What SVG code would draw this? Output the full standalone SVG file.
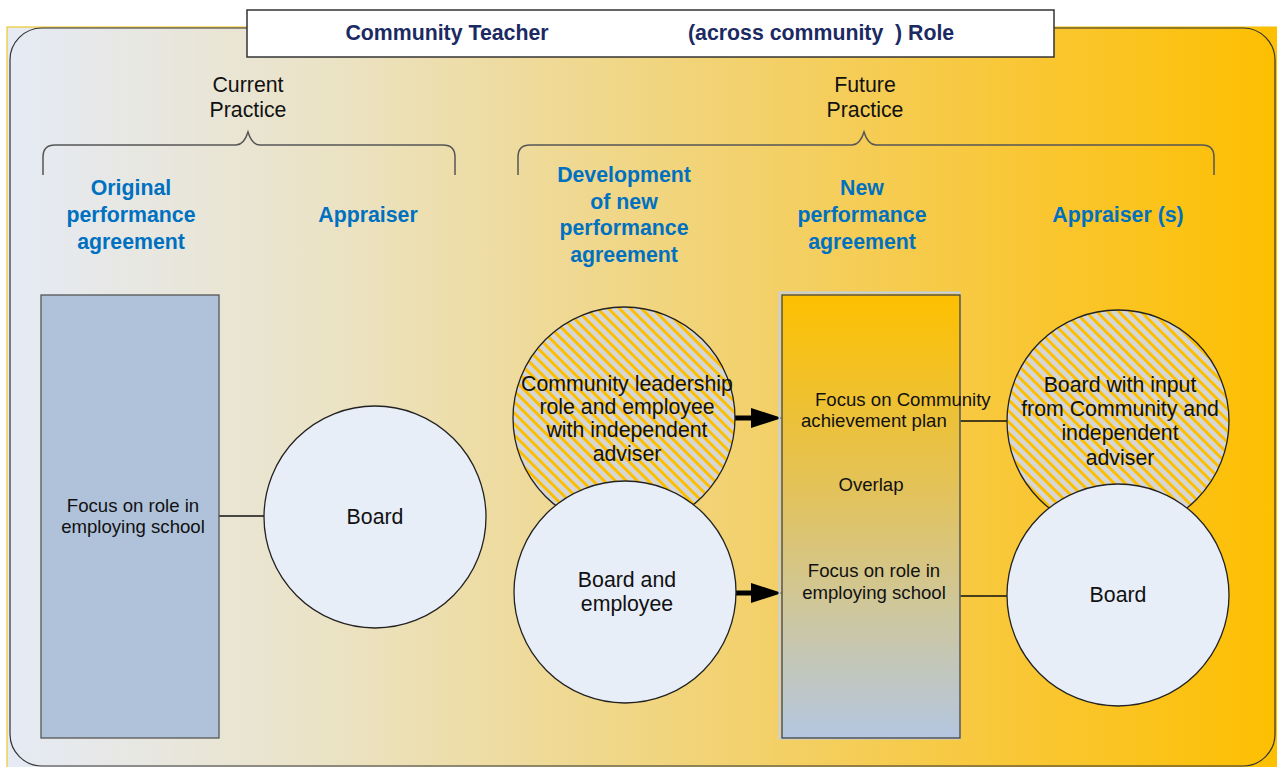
<svg xmlns="http://www.w3.org/2000/svg" width="1277" height="767" viewBox="0 0 1277 767">
<defs>
<linearGradient id="bg" x1="0" y1="0" x2="1" y2="0">
<stop offset="0" stop-color="#e5eaf5"/>
<stop offset="0.25" stop-color="#ebe3c6"/>
<stop offset="0.45" stop-color="#efd890"/>
<stop offset="0.6" stop-color="#f3d068"/>
<stop offset="0.8" stop-color="#f9c735"/>
<stop offset="1" stop-color="#fdbf00"/>
</linearGradient>
<linearGradient id="mid" x1="0" y1="0" x2="0" y2="1">
<stop offset="0" stop-color="#fdc000"/>
<stop offset="0.45" stop-color="#e2c25c"/>
<stop offset="0.7" stop-color="#cfc79a"/>
<stop offset="1" stop-color="#b4c6e0"/>
</linearGradient>
<pattern id="hatch" patternUnits="userSpaceOnUse" width="7.8" height="7.8" patternTransform="rotate(-45)">
<rect width="7.8" height="7.8" fill="#d6d6d6"/>
<rect width="3.4" height="7.8" fill="#fcbf00" shape-rendering="crispEdges"/>
</pattern>
</defs>
<style>
.hdr{font-family:"Liberation Sans",Arial,sans-serif;font-size:21.3px;font-weight:bold;fill:#0070c0;text-anchor:middle}
.lbl{font-family:"Liberation Sans",Arial,sans-serif;font-size:21.3px;fill:#111;text-anchor:middle}
.sm{font-family:"Liberation Sans",Arial,sans-serif;font-size:18.6px;fill:#111;text-anchor:middle}
.st{text-anchor:start}
.ttl{font-family:"Liberation Sans",Arial,sans-serif;font-size:21.3px;font-weight:bold;fill:#1b2a62}
.circ{stroke:#222;stroke-width:1.3}
.brace{fill:none;stroke:#555;stroke-width:1.5}
.ln{stroke:#111;stroke-width:1.3;fill:none}
.shaft{stroke:#000;stroke-width:5}
</style>
<rect x="7" y="27" width="1272" height="742" fill="url(#bg)" stroke="#f0c000" stroke-width="1"/>
<rect x="10" y="28" width="1265" height="738" rx="32" ry="32" fill="none" stroke="#333" stroke-width="1.2"/>
<g id="title">
<rect x="247" y="10" width="807" height="47" fill="#fff" stroke="#333" stroke-width="1.5"/>
<text class="ttl" x="447" y="39.5" text-anchor="middle">Community Teacher</text>
<text class="ttl" x="688" y="39.5">(across community</text>
<text class="ttl" x="895" y="39.5">) Role</text>
</g>
<g id="current-practice">
<path class="brace" d="M43,175 V157 Q43,145 55,145 H236 Q244,145 248,132 Q252,145 260,145 H443 Q455,145 455,157 V175"/>
<text class="lbl" x="248" y="92">Current</text>
<text class="lbl" x="248" y="117">Practice</text>
</g>
<g id="future-practice">
<path class="brace" d="M518,175 V157 Q518,145 530,145 H852 Q860,145 864,132 Q868,145 876,145 H1202 Q1214,145 1214,157 V175"/>
<text class="lbl" x="865" y="92">Future</text>
<text class="lbl" x="865" y="117">Practice</text>
</g>
<g id="headers">
<text class="hdr" x="131" y="195">Original</text>
<text class="hdr" x="131" y="222">performance</text>
<text class="hdr" x="131" y="249">agreement</text>
<text class="hdr" x="368" y="222">Appraiser</text>
<text class="hdr" x="624" y="182">Development</text>
<text class="hdr" x="624" y="209">of new</text>
<text class="hdr" x="624" y="235">performance</text>
<text class="hdr" x="624" y="262">agreement</text>
<text class="hdr" x="862" y="195">New</text>
<text class="hdr" x="862" y="222">performance</text>
<text class="hdr" x="862" y="249">agreement</text>
<text class="hdr" x="1118" y="222">Appraiser (s)</text>
</g>
<g id="connectors">
<line class="ln" x1="219" y1="516" x2="264" y2="516"/>
<line class="shaft" x1="734" y1="418" x2="755" y2="418"/>
<polygon points="751,408 782,418 751,428" fill="#000"/>
<line class="shaft" x1="735" y1="593" x2="755" y2="593"/>
<polygon points="751,583 782,593 751,603" fill="#000"/>
<line class="ln" x1="960" y1="421" x2="1008" y2="421"/>
<line class="ln" x1="960" y1="596" x2="1007" y2="596"/>
</g>
<g id="original-agreement">
<rect x="41" y="295" width="178" height="443" fill="#b0c2da" stroke="#555" stroke-width="1.3"/>
<text class="sm" x="133" y="512">Focus on role in</text>
<text class="sm" x="133" y="533">employing school</text>
</g>
<g id="board-current">
<circle class="circ" cx="375" cy="517" r="111" fill="#e8eef8"/>
<text class="lbl" x="375" y="524">Board</text>
</g>
<g id="community-leadership">
<circle class="circ" cx="624" cy="418" r="111" fill="url(#hatch)"/>
<text class="lbl" x="627" y="391">Community leadership</text>
<text class="lbl" x="627" y="414">role and employee</text>
<text class="lbl" x="627" y="437">with independent</text>
<text class="lbl" x="627" y="461">adviser</text>
</g>
<g id="board-employee">
<circle class="circ" cx="625" cy="592" r="111" fill="#e8eef8"/>
<text class="lbl" x="627" y="587">Board and</text>
<text class="lbl" x="627" y="611">employee</text>
</g>
<g id="new-agreement">
<rect x="779.5" y="292.5" width="180" height="446" fill="none" stroke="#c4d0e4" stroke-width="2"/>
<rect x="782" y="295" width="178" height="443" fill="url(#mid)" stroke="#444" stroke-width="1.3"/>
<text class="sm st" x="815" y="406">Focus on Community</text>
<text class="sm st" x="801" y="427">achievement plan</text>
<text class="sm" x="871" y="491">Overlap</text>
<text class="sm" x="874" y="577">Focus on role in</text>
<text class="sm" x="874" y="599">employing school</text>
</g>
<g id="board-with-input">
<circle class="circ" cx="1118" cy="421" r="111" fill="url(#hatch)"/>
<text class="lbl" x="1120" y="392">Board with input</text>
<text class="lbl" x="1120" y="416">from Community and</text>
<text class="lbl" x="1120" y="440">independent</text>
<text class="lbl" x="1120" y="465">adviser</text>
</g>
<g id="board-future">
<circle class="circ" cx="1118" cy="595" r="111" fill="#e8eef8"/>
<text class="lbl" x="1118" y="602">Board</text>
</g>
</svg>
